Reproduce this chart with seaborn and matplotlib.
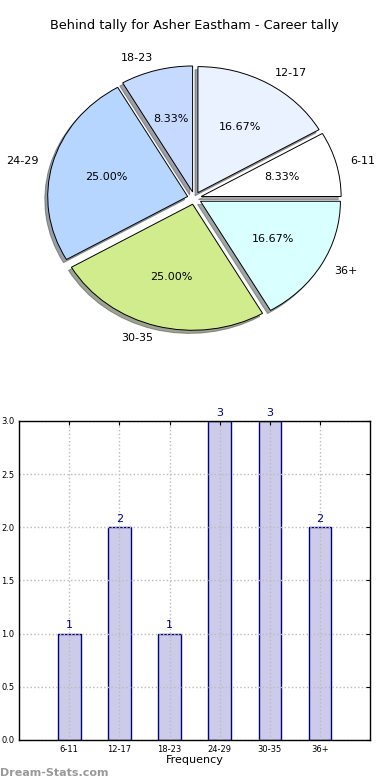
import matplotlib
matplotlib.use("Agg")
import matplotlib.pyplot as plt
import seaborn as sns

# Data
age_groups = ["6-11", "12-17", "18-23", "24-29", "30-35", "36+"]
tally = [1, 2, 1, 3, 3, 2]
slice_colors = ["#ffffff", "#eaf1ff", "#c6d9ff", "#b7d6ff", "#d0ec8c", "#d9ffff"]
y_ticks = [0.0, 0.5, 1.0, 1.5, 2.0, 2.5, 3.0]

sns.set_style("white")
plt.rcParams["font.family"] = ["DejaVu Sans"]
plt.rcParams["text.color"] = "black"
plt.rcParams["axes.labelcolor"] = "black"
plt.rcParams["xtick.color"] = "black"
plt.rcParams["ytick.color"] = "black"

fig = plt.figure(figsize=(3.9, 7.8), dpi=100)

# Pie chart
ax1 = fig.add_axes([0.05, 0.544, 0.897, 0.404])
ax1.pie(
    tally,
    labels=age_groups,
    colors=slice_colors,
    explode=[0.05] * len(tally),
    autopct="%1.2f%%",
    shadow={"ox": -0.015, "oy": -0.018, "shade": 0.7},
    startangle=0,
    wedgeprops=dict(edgecolor="black", linewidth=0.7),
    textprops=dict(fontsize=8, color="black"),
)
ax1.set_aspect("auto")
ax1.set_xlim(-1.25, 1.25)
ax1.set_ylim(-1.25, 1.25)
ax1.set_title("Behind tally for Asher Eastham - Career tally", fontsize=9.3, pad=8)

# Bar chart
ax2 = fig.add_axes([0.049, 0.0513, 0.9, 0.409])
sns.barplot(
    x=age_groups,
    y=tally,
    color="#ccccea",
    edgecolor="navy",
    linewidth=1,
    width=0.45,
    saturation=1,
    ax=ax2,
)
for i, v in enumerate(tally):
    ax2.text(i, v + 0.03, str(v), ha="center", va="bottom", color="navy", fontsize=8)
ax2.set_xlim(-1, 6)
ax2.set_ylim(0, 3)
ax2.set_yticks(y_ticks)
ax2.set_yticklabels([f"{t:.1f}" for t in y_ticks])
ax2.grid(True, color="#bbbbbb", linestyle=":", linewidth=1)
ax2.set_axisbelow(False)
ax2.tick_params(labelsize=6, direction="in", top=True, right=True, length=3)
ax2.set_xlabel("Frequency", fontsize=8, labelpad=1)
ax2.set_ylabel("")
for s in ax2.spines.values():
    s.set_color("black")
    s.set_linewidth(1)
    s.set_zorder(5)

fig.text(0.0, 0.003, "Dream-Stats.com", fontsize=8, color="#999999",
         fontweight="bold", ha="left", va="bottom")

fig.savefig("out.png", dpi=100)
